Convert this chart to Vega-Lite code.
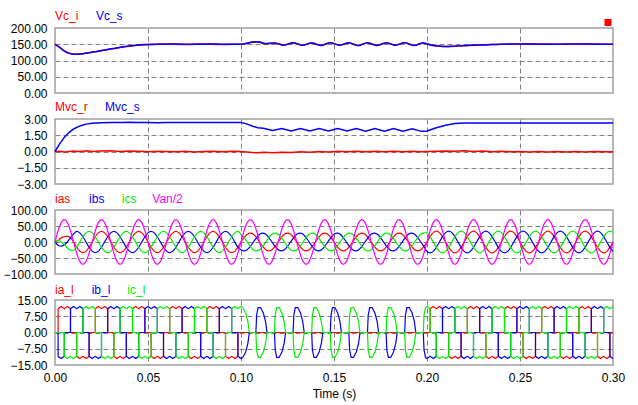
{
"$schema": "https://vega.github.io/schema/vega-lite/v6.json",
"background": "white",
"padding": {"left": 2, "top": 9, "right": 12, "bottom": 5},
"spacing": 26,
"bounds": "flush",
"config": {
  "view": {"stroke": "#a0a0a0", "strokeWidth": 1.5},
  "axis": {"grid": true, "gridColor": "#808080", "gridDash": [5, 3], "gridWidth": 1, "domain": false, "ticks": false, "tickCount": 12, "labelFont": "Liberation Sans", "labelFontSize": 12, "labelColor": "#000000", "labelFlush": false, "labelOverlap": false, "labelPadding": 8, "titleFont": "Liberation Sans", "titleFontSize": 12, "titleFontWeight": "normal", "titleColor": "#000000"},
  "text": {"font": "Liberation Sans", "fontSize": 12}
},
"vconcat": [
{
  "width": 558, "height": 65,
  "data": {"values": [
{"t":0,"vi":150,"vs":150},{"t":0.0025,"vi":141,"vs":140},{"t":0.005,"vi":130,"vs":129},{"t":0.0075,"vi":123,"vs":122},{"t":0.01,"vi":120,"vs":119},{"t":0.0125,"vi":119,"vs":120},{"t":0.015,"vi":121,"vs":121},{"t":0.0175,"vi":123,"vs":123},{"t":0.02,"vi":125,"vs":126},{"t":0.0225,"vi":128,"vs":128},{"t":0.025,"vi":130,"vs":131},{"t":0.0275,"vi":133,"vs":133},{"t":0.03,"vi":135,"vs":136},{"t":0.0325,"vi":138,"vs":138},{"t":0.035,"vi":140,"vs":141},{"t":0.0375,"vi":142,"vs":143},{"t":0.04,"vi":144,"vs":145},{"t":0.0425,"vi":146,"vs":146},{"t":0.045,"vi":147,"vs":148},{"t":0.0475,"vi":148,"vs":149},{"t":0.05,"vi":149,"vs":149},{"t":0.055,"vi":150,"vs":150},{"t":0.06,"vi":151,"vs":150},{"t":0.065,"vi":150,"vs":151},{"t":0.07,"vi":149,"vs":150},{"t":0.075,"vi":150,"vs":150},{"t":0.08,"vi":151,"vs":150},{"t":0.085,"vi":150,"vs":151},{"t":0.09,"vi":149,"vs":150},{"t":0.095,"vi":150,"vs":150},{"t":0.1,"vi":150,"vs":150},{"t":0.103,"vi":152,"vs":153},{"t":0.106,"vi":156,"vs":157},{"t":0.108,"vi":157,"vs":158},{"t":0.11,"vi":156,"vs":157},{"t":0.113,"vi":151,"vs":152},{"t":0.118,"vi":153,"vs":154},{"t":0.123,"vi":148,"vs":147},{"t":0.128,"vi":154,"vs":155},{"t":0.133,"vi":147,"vs":147},{"t":0.138,"vi":154,"vs":154},{"t":0.143,"vi":147,"vs":146},{"t":0.148,"vi":155,"vs":155},{"t":0.153,"vi":147,"vs":147},{"t":0.158,"vi":154,"vs":155},{"t":0.163,"vi":146,"vs":146},{"t":0.168,"vi":155,"vs":155},{"t":0.173,"vi":147,"vs":146},{"t":0.178,"vi":154,"vs":155},{"t":0.183,"vi":147,"vs":147},{"t":0.188,"vi":155,"vs":155},{"t":0.193,"vi":147,"vs":146},{"t":0.198,"vi":154,"vs":154},{"t":0.2,"vi":151,"vs":151},{"t":0.203,"vi":147,"vs":146},{"t":0.207,"vi":144,"vs":144},{"t":0.21,"vi":143,"vs":143},{"t":0.215,"vi":144,"vs":144},{"t":0.22,"vi":145,"vs":146},{"t":0.225,"vi":147,"vs":147},{"t":0.23,"vi":148,"vs":148},{"t":0.235,"vi":149,"vs":149},{"t":0.24,"vi":150,"vs":150},{"t":0.25,"vi":150,"vs":151},{"t":0.26,"vi":151,"vs":150},{"t":0.27,"vi":150,"vs":150},{"t":0.28,"vi":150,"vs":151},{"t":0.29,"vi":151,"vs":150},{"t":0.3,"vi":150,"vs":150}
  ]},
  "layer": [
    {"mark": {"type": "line", "color": "#ff0000", "strokeWidth": 1.5, "interpolate": "monotone"},
     "encoding": {
       "x": {"field": "t", "type": "quantitative", "scale": {"domain": [0, 0.3], "nice": false, "zero": false}, "axis": {"values": [0, 0.05, 0.1, 0.15, 0.2, 0.25, 0.3], "labels": false, "title": null, "gridOpacity": {"condition": {"test": "datum.value < 0.001 || datum.value > 0.299", "value": 0}, "value": 1}}},
       "y": {"field": "vi", "type": "quantitative", "scale": {"domain": [0, 200], "nice": false}, "axis": {"values": [0, 50, 100, 150, 200], "tickCount": 12, "format": ".2f", "title": null, "gridOpacity": {"condition": {"test": "datum.value == 0 || datum.value == 200", "value": 0}, "value": 1}}}
     }},
    {"mark": {"type": "line", "color": "#0000ff", "strokeWidth": 1.5, "interpolate": "monotone"},
     "encoding": {"x": {"field": "t", "type": "quantitative"}, "y": {"field": "vs", "type": "quantitative", "title": null}}},
    {"data": {"values": [{}]}, "mark": {"type": "text", "text": "Vc_i", "color": "#ff0000", "align": "left", "baseline": "middle", "dy": -12}, "encoding": {"x": {"datum": 0}, "y": {"datum": 200}}},
    {"data": {"values": [{}]}, "mark": {"type": "text", "text": "Vc_s", "color": "#0000ff", "align": "left", "baseline": "middle", "dy": -12}, "encoding": {"x": {"datum": 0.022}, "y": {"datum": 200}}},
    {"data": {"values": [{}]}, "mark": {"type": "point", "shape": "square", "filled": true, "size": 49, "color": "#ff0000", "opacity": 1}, "encoding": {"x": {"datum": 0.2973}, "y": {"datum": 217}}}
  ]
},
{
  "width": 558, "height": 65,
  "data": {"values": [
{"t":0,"mr":0,"ms":0},{"t":0.0025,"mr":0.02,"ms":0.7},{"t":0.005,"mr":-0.05,"ms":1.3},{"t":0.0075,"mr":0,"ms":1.75},{"t":0.01,"mr":0.05,"ms":2.08},{"t":0.0125,"mr":0,"ms":2.3},{"t":0.015,"mr":0.03,"ms":2.45},{"t":0.0175,"mr":0.06,"ms":2.55},{"t":0.02,"mr":0,"ms":2.61},{"t":0.025,"mr":0.04,"ms":2.66},{"t":0.03,"mr":0.07,"ms":2.68},{"t":0.035,"mr":0,"ms":2.68},{"t":0.04,"mr":0.05,"ms":2.69},{"t":0.045,"mr":0.02,"ms":2.68},{"t":0.05,"mr":-0.02,"ms":2.68},{"t":0.055,"mr":0.03,"ms":2.66},{"t":0.06,"mr":0,"ms":2.68},{"t":0.065,"mr":-0.03,"ms":2.67},{"t":0.07,"mr":0.02,"ms":2.68},{"t":0.075,"mr":-0.04,"ms":2.67},{"t":0.08,"mr":0,"ms":2.68},{"t":0.085,"mr":0.03,"ms":2.67},{"t":0.09,"mr":-0.03,"ms":2.68},{"t":0.095,"mr":0.02,"ms":2.67},{"t":0.1,"mr":0,"ms":2.68},{"t":0.103,"mr":-0.05,"ms":2.55},{"t":0.106,"mr":-0.1,"ms":2.35},{"t":0.109,"mr":-0.12,"ms":2.2},{"t":0.112,"mr":-0.08,"ms":2.15},{"t":0.117,"mr":-0.12,"ms":1.93},{"t":0.122,"mr":-0.06,"ms":2.12},{"t":0.127,"mr":-0.09,"ms":1.9},{"t":0.132,"mr":-0.03,"ms":2.12},{"t":0.137,"mr":-0.06,"ms":1.9},{"t":0.142,"mr":0,"ms":2.12},{"t":0.147,"mr":-0.04,"ms":1.9},{"t":0.152,"mr":0.02,"ms":2.13},{"t":0.157,"mr":-0.03,"ms":1.9},{"t":0.162,"mr":0.02,"ms":2.12},{"t":0.167,"mr":-0.02,"ms":1.88},{"t":0.172,"mr":0.03,"ms":2.12},{"t":0.177,"mr":-0.02,"ms":1.88},{"t":0.182,"mr":0.03,"ms":2.12},{"t":0.187,"mr":-0.03,"ms":1.88},{"t":0.192,"mr":0.02,"ms":2.1},{"t":0.197,"mr":-0.02,"ms":1.86},{"t":0.2,"mr":0.01,"ms":1.9},{"t":0.205,"mr":0.03,"ms":2.2},{"t":0.21,"mr":0.05,"ms":2.42},{"t":0.215,"mr":0.02,"ms":2.58},{"t":0.22,"mr":0.06,"ms":2.62},{"t":0.225,"mr":0,"ms":2.63},{"t":0.23,"mr":0.05,"ms":2.64},{"t":0.235,"mr":-0.02,"ms":2.63},{"t":0.24,"mr":0.03,"ms":2.64},{"t":0.245,"mr":-0.03,"ms":2.63},{"t":0.25,"mr":0,"ms":2.63},{"t":0.255,"mr":-0.05,"ms":2.62},{"t":0.26,"mr":0,"ms":2.63},{"t":0.265,"mr":-0.04,"ms":2.62},{"t":0.27,"mr":0,"ms":2.63},{"t":0.275,"mr":-0.04,"ms":2.62},{"t":0.28,"mr":-0.01,"ms":2.63},{"t":0.285,"mr":-0.05,"ms":2.62},{"t":0.29,"mr":0,"ms":2.63},{"t":0.295,"mr":-0.03,"ms":2.62},{"t":0.3,"mr":-0.02,"ms":2.63}
  ]},
  "layer": [
    {"mark": {"type": "line", "color": "#ff0000", "strokeWidth": 1.5},
     "encoding": {
       "x": {"field": "t", "type": "quantitative", "scale": {"domain": [0, 0.3], "nice": false, "zero": false}, "axis": {"values": [0, 0.05, 0.1, 0.15, 0.2, 0.25, 0.3], "labels": false, "title": null, "gridOpacity": {"condition": {"test": "datum.value < 0.001 || datum.value > 0.299", "value": 0}, "value": 1}}},
       "y": {"field": "mr", "type": "quantitative", "scale": {"domain": [-3, 3], "nice": false}, "axis": {"values": [-3, -1.5, 0, 1.5, 3], "tickCount": 12, "format": ".2f", "title": null, "gridOpacity": {"condition": {"test": "abs(datum.value) == 3", "value": 0}, "value": 1}}}
     }},
    {"mark": {"type": "line", "color": "#0000ff", "strokeWidth": 1.5},
     "encoding": {"x": {"field": "t", "type": "quantitative"}, "y": {"field": "ms", "type": "quantitative", "title": null}}},
    {"data": {"values": [{}]}, "mark": {"type": "text", "text": "Mvc_r", "color": "#ff0000", "align": "left", "baseline": "middle", "dy": -12}, "encoding": {"x": {"datum": 0}, "y": {"datum": 3}}},
    {"data": {"values": [{}]}, "mark": {"type": "text", "text": "Mvc_s", "color": "#0000ff", "align": "left", "baseline": "middle", "dy": -12}, "encoding": {"x": {"datum": 0.0269}, "y": {"datum": 3}}}
  ]
},
{
  "width": 558, "height": 64,
  "data": {"values": [
{"t":0,"a":0,"b":0,"c":0,"v":0},
{"t":0.00167,"a":5,"b":-9.9,"c":5,"v":35},
{"t":0.00333,"a":12.9,"b":-12.9,"c":0,"v":60.6},
{"t":0.005,"a":16.5,"b":-8.3,"c":-8.3,"v":70},
{"t":0.00667,"a":18.6,"b":0,"c":-18.6,"v":60.6},
{"t":0.00833,"a":13.2,"b":13.2,"c":-26.4,"v":35},
{"t":0.01,"a":0,"b":25.7,"c":-25.7,"v":0},
{"t":0.01167,"a":-16.5,"b":33,"c":-16.5,"v":-35},
{"t":0.01333,"a":-28.6,"b":28.6,"c":0,"v":-60.6},
{"t":0.015,"a":-33,"b":16.5,"c":16.5,"v":-70},
{"t":0.01667,"a":-28.6,"b":0,"c":28.6,"v":-60.6},
{"t":0.01833,"a":-16.5,"b":-16.5,"c":33,"v":-35},
{"t":0.02,"a":0,"b":-28.6,"c":28.6,"v":0},
{"t":0.02167,"a":16.5,"b":-33,"c":16.5,"v":35},
{"t":0.02333,"a":28.6,"b":-28.6,"c":0,"v":60.6},
{"t":0.025,"a":33,"b":-16.5,"c":-16.5,"v":70},
{"t":0.02667,"a":28.6,"b":0,"c":-28.6,"v":60.6},
{"t":0.02833,"a":16.5,"b":16.5,"c":-33,"v":35},
{"t":0.03,"a":0,"b":28.6,"c":-28.6,"v":0},
{"t":0.03167,"a":-16.5,"b":33,"c":-16.5,"v":-35},
{"t":0.03333,"a":-28.6,"b":28.6,"c":0,"v":-60.6},
{"t":0.035,"a":-33,"b":16.5,"c":16.5,"v":-70},
{"t":0.03667,"a":-28.6,"b":0,"c":28.6,"v":-60.6},
{"t":0.03833,"a":-16.5,"b":-16.5,"c":33,"v":-35},
{"t":0.04,"a":0,"b":-28.6,"c":28.6,"v":0},
{"t":0.04167,"a":16.5,"b":-33,"c":16.5,"v":35},
{"t":0.04333,"a":28.6,"b":-28.6,"c":0,"v":60.6},
{"t":0.045,"a":33,"b":-16.5,"c":-16.5,"v":70},
{"t":0.04667,"a":28.6,"b":0,"c":-28.6,"v":60.6},
{"t":0.04833,"a":16.5,"b":16.5,"c":-33,"v":35},
{"t":0.05,"a":0,"b":28.6,"c":-28.6,"v":0},
{"t":0.05167,"a":-16.5,"b":33,"c":-16.5,"v":-35},
{"t":0.05333,"a":-28.6,"b":28.6,"c":0,"v":-60.6},
{"t":0.055,"a":-33,"b":16.5,"c":16.5,"v":-70},
{"t":0.05667,"a":-28.6,"b":0,"c":28.6,"v":-60.6},
{"t":0.05833,"a":-16.5,"b":-16.5,"c":33,"v":-35},
{"t":0.06,"a":0,"b":-28.6,"c":28.6,"v":0},
{"t":0.06167,"a":16.5,"b":-33,"c":16.5,"v":35},
{"t":0.06333,"a":28.6,"b":-28.6,"c":0,"v":60.6},
{"t":0.065,"a":33,"b":-16.5,"c":-16.5,"v":70},
{"t":0.06667,"a":28.6,"b":0,"c":-28.6,"v":60.6},
{"t":0.06833,"a":16.5,"b":16.5,"c":-33,"v":35},
{"t":0.07,"a":0,"b":28.6,"c":-28.6,"v":0},
{"t":0.07167,"a":-16.5,"b":33,"c":-16.5,"v":-35},
{"t":0.07333,"a":-28.6,"b":28.6,"c":0,"v":-60.6},
{"t":0.075,"a":-33,"b":16.5,"c":16.5,"v":-70},
{"t":0.07667,"a":-28.6,"b":0,"c":28.6,"v":-60.6},
{"t":0.07833,"a":-16.5,"b":-16.5,"c":33,"v":-35},
{"t":0.08,"a":0,"b":-28.6,"c":28.6,"v":0},
{"t":0.08167,"a":16.5,"b":-33,"c":16.5,"v":35},
{"t":0.08333,"a":28.6,"b":-28.6,"c":0,"v":60.6},
{"t":0.085,"a":33,"b":-16.5,"c":-16.5,"v":70},
{"t":0.08667,"a":28.6,"b":0,"c":-28.6,"v":60.6},
{"t":0.08833,"a":16.5,"b":16.5,"c":-33,"v":35},
{"t":0.09,"a":0,"b":28.6,"c":-28.6,"v":0},
{"t":0.09167,"a":-16.5,"b":33,"c":-16.5,"v":-35},
{"t":0.09333,"a":-28.6,"b":28.6,"c":0,"v":-60.6},
{"t":0.095,"a":-33,"b":16.5,"c":16.5,"v":-70},
{"t":0.09667,"a":-28.6,"b":0,"c":28.6,"v":-60.6},
{"t":0.09833,"a":-16.5,"b":-16.5,"c":33,"v":-35},
{"t":0.1,"a":0,"b":-24.2,"c":24.2,"v":0},
{"t":0.10167,"a":14,"b":-28,"c":14,"v":35},
{"t":0.10333,"a":24.2,"b":-24.2,"c":0,"v":60.6},
{"t":0.105,"a":28,"b":-14,"c":-14,"v":70},
{"t":0.10667,"a":24.2,"b":0,"c":-24.2,"v":60.6},
{"t":0.10833,"a":14,"b":14,"c":-28,"v":35},
{"t":0.11,"a":0,"b":24.2,"c":-24.2,"v":0},
{"t":0.11167,"a":-14,"b":28,"c":-14,"v":-35},
{"t":0.11333,"a":-24.2,"b":24.2,"c":0,"v":-60.6},
{"t":0.115,"a":-28,"b":14,"c":14,"v":-70},
{"t":0.11667,"a":-24.2,"b":0,"c":24.2,"v":-60.6},
{"t":0.11833,"a":-14,"b":-14,"c":28,"v":-35},
{"t":0.12,"a":0,"b":-24.2,"c":24.2,"v":0},
{"t":0.12167,"a":14,"b":-28,"c":14,"v":35},
{"t":0.12333,"a":24.2,"b":-24.2,"c":0,"v":60.6},
{"t":0.125,"a":28,"b":-14,"c":-14,"v":70},
{"t":0.12667,"a":24.2,"b":0,"c":-24.2,"v":60.6},
{"t":0.12833,"a":14,"b":14,"c":-28,"v":35},
{"t":0.13,"a":0,"b":24.2,"c":-24.2,"v":0},
{"t":0.13167,"a":-14,"b":28,"c":-14,"v":-35},
{"t":0.13333,"a":-24.2,"b":24.2,"c":0,"v":-60.6},
{"t":0.135,"a":-28,"b":14,"c":14,"v":-70},
{"t":0.13667,"a":-24.2,"b":0,"c":24.2,"v":-60.6},
{"t":0.13833,"a":-14,"b":-14,"c":28,"v":-35},
{"t":0.14,"a":0,"b":-24.2,"c":24.2,"v":0},
{"t":0.14167,"a":14,"b":-28,"c":14,"v":35},
{"t":0.14333,"a":24.2,"b":-24.2,"c":0,"v":60.6},
{"t":0.145,"a":28,"b":-14,"c":-14,"v":70},
{"t":0.14667,"a":24.2,"b":0,"c":-24.2,"v":60.6},
{"t":0.14833,"a":14,"b":14,"c":-28,"v":35},
{"t":0.15,"a":0,"b":24.2,"c":-24.2,"v":0},
{"t":0.15167,"a":-14,"b":28,"c":-14,"v":-35},
{"t":0.15333,"a":-24.2,"b":24.2,"c":0,"v":-60.6},
{"t":0.155,"a":-28,"b":14,"c":14,"v":-70},
{"t":0.15667,"a":-24.2,"b":0,"c":24.2,"v":-60.6},
{"t":0.15833,"a":-14,"b":-14,"c":28,"v":-35},
{"t":0.16,"a":0,"b":-24.2,"c":24.2,"v":0},
{"t":0.16167,"a":14,"b":-28,"c":14,"v":35},
{"t":0.16333,"a":24.2,"b":-24.2,"c":0,"v":60.6},
{"t":0.165,"a":28,"b":-14,"c":-14,"v":70},
{"t":0.16667,"a":24.2,"b":0,"c":-24.2,"v":60.6},
{"t":0.16833,"a":14,"b":14,"c":-28,"v":35},
{"t":0.17,"a":0,"b":24.2,"c":-24.2,"v":0},
{"t":0.17167,"a":-14,"b":28,"c":-14,"v":-35},
{"t":0.17333,"a":-24.2,"b":24.2,"c":0,"v":-60.6},
{"t":0.175,"a":-28,"b":14,"c":14,"v":-70},
{"t":0.17667,"a":-24.2,"b":0,"c":24.2,"v":-60.6},
{"t":0.17833,"a":-14,"b":-14,"c":28,"v":-35},
{"t":0.18,"a":0,"b":-24.2,"c":24.2,"v":0},
{"t":0.18167,"a":14,"b":-28,"c":14,"v":35},
{"t":0.18333,"a":24.2,"b":-24.2,"c":0,"v":60.6},
{"t":0.185,"a":28,"b":-14,"c":-14,"v":70},
{"t":0.18667,"a":24.2,"b":0,"c":-24.2,"v":60.6},
{"t":0.18833,"a":14,"b":14,"c":-28,"v":35},
{"t":0.19,"a":0,"b":24.2,"c":-24.2,"v":0},
{"t":0.19167,"a":-14,"b":28,"c":-14,"v":-35},
{"t":0.19333,"a":-24.2,"b":24.2,"c":0,"v":-60.6},
{"t":0.195,"a":-28,"b":14,"c":14,"v":-70},
{"t":0.19667,"a":-24.2,"b":0,"c":24.2,"v":-60.6},
{"t":0.19833,"a":-14,"b":-14,"c":28,"v":-35},
{"t":0.2,"a":0,"b":-29.4,"c":29.4,"v":0},
{"t":0.20167,"a":17,"b":-34,"c":17,"v":35},
{"t":0.20333,"a":29.4,"b":-29.4,"c":0,"v":60.6},
{"t":0.205,"a":34,"b":-17,"c":-17,"v":70},
{"t":0.20667,"a":29.4,"b":0,"c":-29.4,"v":60.6},
{"t":0.20833,"a":17,"b":17,"c":-34,"v":35},
{"t":0.21,"a":0,"b":29.4,"c":-29.4,"v":0},
{"t":0.21167,"a":-17,"b":34,"c":-17,"v":-35},
{"t":0.21333,"a":-29.4,"b":29.4,"c":0,"v":-60.6},
{"t":0.215,"a":-34,"b":17,"c":17,"v":-70},
{"t":0.21667,"a":-29.4,"b":0,"c":29.4,"v":-60.6},
{"t":0.21833,"a":-17,"b":-17,"c":34,"v":-35},
{"t":0.22,"a":0,"b":-29.4,"c":29.4,"v":0},
{"t":0.22167,"a":17,"b":-34,"c":17,"v":35},
{"t":0.22333,"a":29.4,"b":-29.4,"c":0,"v":60.6},
{"t":0.225,"a":34,"b":-17,"c":-17,"v":70},
{"t":0.22667,"a":29.4,"b":0,"c":-29.4,"v":60.6},
{"t":0.22833,"a":17,"b":17,"c":-34,"v":35},
{"t":0.23,"a":0,"b":29.4,"c":-29.4,"v":0},
{"t":0.23167,"a":-17,"b":34,"c":-17,"v":-35},
{"t":0.23333,"a":-29.4,"b":29.4,"c":0,"v":-60.6},
{"t":0.235,"a":-34,"b":17,"c":17,"v":-70},
{"t":0.23667,"a":-29.4,"b":0,"c":29.4,"v":-60.6},
{"t":0.23833,"a":-17,"b":-17,"c":34,"v":-35},
{"t":0.24,"a":0,"b":-29.4,"c":29.4,"v":0},
{"t":0.24167,"a":17,"b":-34,"c":17,"v":35},
{"t":0.24333,"a":29.4,"b":-29.4,"c":0,"v":60.6},
{"t":0.245,"a":34,"b":-17,"c":-17,"v":70},
{"t":0.24667,"a":29.4,"b":0,"c":-29.4,"v":60.6},
{"t":0.24833,"a":17,"b":17,"c":-34,"v":35},
{"t":0.25,"a":0,"b":29.4,"c":-29.4,"v":0},
{"t":0.25167,"a":-17,"b":34,"c":-17,"v":-35},
{"t":0.25333,"a":-29.4,"b":29.4,"c":0,"v":-60.6},
{"t":0.255,"a":-34,"b":17,"c":17,"v":-70},
{"t":0.25667,"a":-29.4,"b":0,"c":29.4,"v":-60.6},
{"t":0.25833,"a":-17,"b":-17,"c":34,"v":-35},
{"t":0.26,"a":0,"b":-29.4,"c":29.4,"v":0},
{"t":0.26167,"a":17,"b":-34,"c":17,"v":35},
{"t":0.26333,"a":29.4,"b":-29.4,"c":0,"v":60.6},
{"t":0.265,"a":34,"b":-17,"c":-17,"v":70},
{"t":0.26667,"a":29.4,"b":0,"c":-29.4,"v":60.6},
{"t":0.26833,"a":17,"b":17,"c":-34,"v":35},
{"t":0.27,"a":0,"b":29.4,"c":-29.4,"v":0},
{"t":0.27167,"a":-17,"b":34,"c":-17,"v":-35},
{"t":0.27333,"a":-29.4,"b":29.4,"c":0,"v":-60.6},
{"t":0.275,"a":-34,"b":17,"c":17,"v":-70},
{"t":0.27667,"a":-29.4,"b":0,"c":29.4,"v":-60.6},
{"t":0.27833,"a":-17,"b":-17,"c":34,"v":-35},
{"t":0.28,"a":0,"b":-29.4,"c":29.4,"v":0},
{"t":0.28167,"a":17,"b":-34,"c":17,"v":35},
{"t":0.28333,"a":29.4,"b":-29.4,"c":0,"v":60.6},
{"t":0.285,"a":34,"b":-17,"c":-17,"v":70},
{"t":0.28667,"a":29.4,"b":0,"c":-29.4,"v":60.6},
{"t":0.28833,"a":17,"b":17,"c":-34,"v":35},
{"t":0.29,"a":0,"b":29.4,"c":-29.4,"v":0},
{"t":0.29167,"a":-17,"b":34,"c":-17,"v":-35},
{"t":0.29333,"a":-29.4,"b":29.4,"c":0,"v":-60.6},
{"t":0.295,"a":-34,"b":17,"c":17,"v":-70},
{"t":0.29667,"a":-29.4,"b":0,"c":29.4,"v":-60.6},
{"t":0.29833,"a":-17,"b":-17,"c":34,"v":-35},
{"t":0.3,"a":0,"b":-29.4,"c":29.4,"v":0}
  ]},
  "layer": [
    {"mark": {"type": "line", "color": "#ff0000", "strokeWidth": 1.2, "interpolate": "monotone"},
     "encoding": {
       "x": {"field": "t", "type": "quantitative", "scale": {"domain": [0, 0.3], "nice": false, "zero": false}, "axis": {"values": [0, 0.05, 0.1, 0.15, 0.2, 0.25, 0.3], "labels": false, "title": null, "gridOpacity": {"condition": {"test": "datum.value < 0.001 || datum.value > 0.299", "value": 0}, "value": 1}}},
       "y": {"field": "a", "type": "quantitative", "scale": {"domain": [-100, 100], "nice": false}, "axis": {"values": [-100, -50, 0, 50, 100], "tickCount": 12, "format": ".2f", "title": null, "gridOpacity": {"condition": {"test": "abs(datum.value) == 100", "value": 0}, "value": 1}}}
     }},
    {"mark": {"type": "line", "color": "#0000ff", "strokeWidth": 1.2, "interpolate": "monotone"},
     "encoding": {"x": {"field": "t", "type": "quantitative"}, "y": {"field": "b", "type": "quantitative", "title": null}}},
    {"mark": {"type": "line", "color": "#00ee00", "strokeWidth": 1.2, "interpolate": "monotone"},
     "encoding": {"x": {"field": "t", "type": "quantitative"}, "y": {"field": "c", "type": "quantitative", "title": null}}},
    {"mark": {"type": "line", "color": "#ff00ff", "strokeWidth": 1.2, "interpolate": "monotone"},
     "encoding": {"x": {"field": "t", "type": "quantitative"}, "y": {"field": "v", "type": "quantitative", "title": null}}},
    {"data": {"values": [{}]}, "mark": {"type": "text", "text": "ias", "color": "#ff0000", "align": "left", "baseline": "middle", "dy": -11}, "encoding": {"x": {"datum": 0}, "y": {"datum": 100}}},
    {"data": {"values": [{}]}, "mark": {"type": "text", "text": "ibs", "color": "#0000ff", "align": "left", "baseline": "middle", "dy": -11}, "encoding": {"x": {"datum": 0.0183}, "y": {"datum": 100}}},
    {"data": {"values": [{}]}, "mark": {"type": "text", "text": "ics", "color": "#00ee00", "align": "left", "baseline": "middle", "dy": -11}, "encoding": {"x": {"datum": 0.0359}, "y": {"datum": 100}}},
    {"data": {"values": [{}]}, "mark": {"type": "text", "text": "Van/2", "color": "#ff00ff", "align": "left", "baseline": "middle", "dy": -11}, "encoding": {"x": {"datum": 0.0523}, "y": {"datum": 100}}}
  ]
},
{
  "width": 558, "height": 65,
  "data": {"values": [
{"t":0,"a":0,"b":0,"c":0},{"t":0.00167,"a":0,"b":0,"c":0},{"t":0.00168,"a":11,"b":-11,"c":0},{"t":0.00333,"a":12,"b":-12,"c":0},{"t":0.005,"a":11,"b":-11,"c":0},{"t":0.00501,"a":11,"b":0,"c":-11},{"t":0.00667,"a":12,"b":0,"c":-12},{"t":0.00833,"a":11,"b":0,"c":-11},{"t":0.00834,"a":0,"b":11,"c":-11},{"t":0.01,"a":0,"b":12,"c":-12},{"t":0.01167,"a":0,"b":11,"c":-11},{"t":0.01168,"a":-11,"b":11,"c":0},{"t":0.01333,"a":-12,"b":12,"c":0},{"t":0.015,"a":-11,"b":11,"c":0},{"t":0.01501,"a":-11,"b":0,"c":11},{"t":0.01667,"a":-12,"b":0,"c":12},{"t":0.01833,"a":-11,"b":0,"c":11},{"t":0.01834,"a":0,"b":-11,"c":11},{"t":0.02,"a":0,"b":-12,"c":12},
{"t":0.02167,"a":0,"b":-11,"c":11},{"t":0.02168,"a":11,"b":-11,"c":0},{"t":0.02333,"a":12,"b":-12,"c":0},{"t":0.025,"a":11,"b":-11,"c":0},{"t":0.02501,"a":11,"b":0,"c":-11},{"t":0.02667,"a":12,"b":0,"c":-12},{"t":0.02833,"a":11,"b":0,"c":-11},{"t":0.02834,"a":0,"b":11,"c":-11},{"t":0.03,"a":0,"b":12,"c":-12},{"t":0.03167,"a":0,"b":11,"c":-11},{"t":0.03168,"a":-11,"b":11,"c":0},{"t":0.03333,"a":-12,"b":12,"c":0},{"t":0.035,"a":-11,"b":11,"c":0},{"t":0.03501,"a":-11,"b":0,"c":11},{"t":0.03667,"a":-12,"b":0,"c":12},{"t":0.03833,"a":-11,"b":0,"c":11},{"t":0.03834,"a":0,"b":-11,"c":11},{"t":0.04,"a":0,"b":-12,"c":12},
{"t":0.04167,"a":0,"b":-11,"c":11},{"t":0.04168,"a":11,"b":-11,"c":0},{"t":0.04333,"a":12,"b":-12,"c":0},{"t":0.045,"a":11,"b":-11,"c":0},{"t":0.04501,"a":11,"b":0,"c":-11},{"t":0.04667,"a":12,"b":0,"c":-12},{"t":0.04833,"a":11,"b":0,"c":-11},{"t":0.04834,"a":0,"b":11,"c":-11},{"t":0.05,"a":0,"b":12,"c":-12},{"t":0.05167,"a":0,"b":11,"c":-11},{"t":0.05168,"a":-11,"b":11,"c":0},{"t":0.05333,"a":-12,"b":12,"c":0},{"t":0.055,"a":-11,"b":11,"c":0},{"t":0.05501,"a":-11,"b":0,"c":11},{"t":0.05667,"a":-12,"b":0,"c":12},{"t":0.05833,"a":-11,"b":0,"c":11},{"t":0.05834,"a":0,"b":-11,"c":11},{"t":0.06,"a":0,"b":-12,"c":12},
{"t":0.06167,"a":0,"b":-11,"c":11},{"t":0.06168,"a":11,"b":-11,"c":0},{"t":0.06333,"a":12,"b":-12,"c":0},{"t":0.065,"a":11,"b":-11,"c":0},{"t":0.06501,"a":11,"b":0,"c":-11},{"t":0.06667,"a":12,"b":0,"c":-12},{"t":0.06833,"a":11,"b":0,"c":-11},{"t":0.06834,"a":0,"b":11,"c":-11},{"t":0.07,"a":0,"b":12,"c":-12},{"t":0.07167,"a":0,"b":11,"c":-11},{"t":0.07168,"a":-11,"b":11,"c":0},{"t":0.07333,"a":-12,"b":12,"c":0},{"t":0.075,"a":-11,"b":11,"c":0},{"t":0.07501,"a":-11,"b":0,"c":11},{"t":0.07667,"a":-12,"b":0,"c":12},{"t":0.07833,"a":-11,"b":0,"c":11},{"t":0.07834,"a":0,"b":-11,"c":11},{"t":0.08,"a":0,"b":-12,"c":12},
{"t":0.08167,"a":0,"b":-11,"c":11},{"t":0.08168,"a":11,"b":-11,"c":0},{"t":0.08333,"a":12,"b":-12,"c":0},{"t":0.085,"a":11,"b":-11,"c":0},{"t":0.08501,"a":11,"b":0,"c":-11},{"t":0.08667,"a":12,"b":0,"c":-12},{"t":0.08833,"a":11,"b":0,"c":-11},{"t":0.08834,"a":0,"b":11,"c":-11},{"t":0.09,"a":0,"b":12,"c":-12},{"t":0.09167,"a":0,"b":11,"c":-11},{"t":0.09168,"a":-11,"b":11,"c":0},{"t":0.09333,"a":-12,"b":12,"c":0},{"t":0.095,"a":-11,"b":11,"c":0},{"t":0.09501,"a":-11,"b":0,"c":11},{"t":0.09667,"a":-12,"b":0,"c":12},{"t":0.09833,"a":-11,"b":0,"c":11},{"t":0.09834,"a":0,"b":-11,"c":11},{"t":0.1,"a":0,"b":-12,"c":12},
{"t":0.101,"a":0,"b":-11.5,"c":11.5},{"t":0.1025,"a":0,"b":-9,"c":9},{"t":0.1037,"a":0,"b":-5,"c":5},{"t":0.1045,"a":0,"b":0,"c":0},
{"t":0.108,"a":0,"b":0,"c":0},{"t":0.1084,"a":0,"b":8,"c":-8},{"t":0.1092,"a":0,"b":11.5,"c":-11.5},{"t":0.1105,"a":0,"b":11.5,"c":-11.5},{"t":0.112,"a":0,"b":9,"c":-9},{"t":0.1132,"a":0,"b":5,"c":-5},{"t":0.114,"a":0,"b":0,"c":0},
{"t":0.118,"a":0,"b":0,"c":0},{"t":0.1184,"a":0,"b":-8,"c":8},{"t":0.1192,"a":0,"b":-11.5,"c":11.5},{"t":0.1205,"a":0,"b":-11.5,"c":11.5},{"t":0.122,"a":0,"b":-9,"c":9},{"t":0.1232,"a":0,"b":-5,"c":5},{"t":0.124,"a":0,"b":0,"c":0},
{"t":0.128,"a":0,"b":0,"c":0},{"t":0.1284,"a":0,"b":8,"c":-8},{"t":0.1292,"a":0,"b":11.5,"c":-11.5},{"t":0.1305,"a":0,"b":11.5,"c":-11.5},{"t":0.132,"a":0,"b":9,"c":-9},{"t":0.1332,"a":0,"b":5,"c":-5},{"t":0.134,"a":0,"b":0,"c":0},
{"t":0.138,"a":0,"b":0,"c":0},{"t":0.1384,"a":0,"b":-8,"c":8},{"t":0.1392,"a":0,"b":-11.5,"c":11.5},{"t":0.1405,"a":0,"b":-11.5,"c":11.5},{"t":0.142,"a":0,"b":-9,"c":9},{"t":0.1432,"a":0,"b":-5,"c":5},{"t":0.144,"a":0,"b":0,"c":0},
{"t":0.148,"a":0,"b":0,"c":0},{"t":0.1484,"a":0,"b":8,"c":-8},{"t":0.1492,"a":0,"b":11.5,"c":-11.5},{"t":0.1505,"a":0,"b":11.5,"c":-11.5},{"t":0.152,"a":0,"b":9,"c":-9},{"t":0.1532,"a":0,"b":5,"c":-5},{"t":0.154,"a":0,"b":0,"c":0},
{"t":0.158,"a":0,"b":0,"c":0},{"t":0.1584,"a":0,"b":-8,"c":8},{"t":0.1592,"a":0,"b":-11.5,"c":11.5},{"t":0.1605,"a":0,"b":-11.5,"c":11.5},{"t":0.162,"a":0,"b":-9,"c":9},{"t":0.1632,"a":0,"b":-5,"c":5},{"t":0.164,"a":0,"b":0,"c":0},
{"t":0.168,"a":0,"b":0,"c":0},{"t":0.1684,"a":0,"b":8,"c":-8},{"t":0.1692,"a":0,"b":11.5,"c":-11.5},{"t":0.1705,"a":0,"b":11.5,"c":-11.5},{"t":0.172,"a":0,"b":9,"c":-9},{"t":0.1732,"a":0,"b":5,"c":-5},{"t":0.174,"a":0,"b":0,"c":0},
{"t":0.178,"a":0,"b":0,"c":0},{"t":0.1784,"a":0,"b":-8,"c":8},{"t":0.1792,"a":0,"b":-11.5,"c":11.5},{"t":0.1805,"a":0,"b":-11.5,"c":11.5},{"t":0.182,"a":0,"b":-9,"c":9},{"t":0.1832,"a":0,"b":-5,"c":5},{"t":0.184,"a":0,"b":0,"c":0},
{"t":0.188,"a":0,"b":0,"c":0},{"t":0.1884,"a":0,"b":8,"c":-8},{"t":0.1892,"a":0,"b":11.5,"c":-11.5},{"t":0.1905,"a":0,"b":11.5,"c":-11.5},{"t":0.192,"a":0,"b":9,"c":-9},{"t":0.1932,"a":0,"b":5,"c":-5},{"t":0.194,"a":0,"b":0,"c":0},
{"t":0.198,"a":0,"b":0,"c":0},{"t":0.1984,"a":0,"b":-8,"c":8},{"t":0.1992,"a":0,"b":-11.5,"c":11.5},{"t":0.2,"a":0,"b":-12,"c":12},
{"t":0.20167,"a":0,"b":-11,"c":11},{"t":0.20168,"a":11,"b":-11,"c":0},{"t":0.20333,"a":12,"b":-12,"c":0},{"t":0.205,"a":11,"b":-11,"c":0},{"t":0.20501,"a":11,"b":0,"c":-11},{"t":0.20667,"a":12,"b":0,"c":-12},{"t":0.20833,"a":11,"b":0,"c":-11},{"t":0.20834,"a":0,"b":11,"c":-11},{"t":0.21,"a":0,"b":12,"c":-12},{"t":0.21167,"a":0,"b":11,"c":-11},{"t":0.21168,"a":-11,"b":11,"c":0},{"t":0.21333,"a":-12,"b":12,"c":0},{"t":0.215,"a":-11,"b":11,"c":0},{"t":0.21501,"a":-11,"b":0,"c":11},{"t":0.21667,"a":-12,"b":0,"c":12},{"t":0.21833,"a":-11,"b":0,"c":11},{"t":0.21834,"a":0,"b":-11,"c":11},{"t":0.22,"a":0,"b":-12,"c":12},
{"t":0.22167,"a":0,"b":-11,"c":11},{"t":0.22168,"a":11,"b":-11,"c":0},{"t":0.22333,"a":12,"b":-12,"c":0},{"t":0.225,"a":11,"b":-11,"c":0},{"t":0.22501,"a":11,"b":0,"c":-11},{"t":0.22667,"a":12,"b":0,"c":-12},{"t":0.22833,"a":11,"b":0,"c":-11},{"t":0.22834,"a":0,"b":11,"c":-11},{"t":0.23,"a":0,"b":12,"c":-12},{"t":0.23167,"a":0,"b":11,"c":-11},{"t":0.23168,"a":-11,"b":11,"c":0},{"t":0.23333,"a":-12,"b":12,"c":0},{"t":0.235,"a":-11,"b":11,"c":0},{"t":0.23501,"a":-11,"b":0,"c":11},{"t":0.23667,"a":-12,"b":0,"c":12},{"t":0.23833,"a":-11,"b":0,"c":11},{"t":0.23834,"a":0,"b":-11,"c":11},{"t":0.24,"a":0,"b":-12,"c":12},
{"t":0.24167,"a":0,"b":-11,"c":11},{"t":0.24168,"a":11,"b":-11,"c":0},{"t":0.24333,"a":12,"b":-12,"c":0},{"t":0.245,"a":11,"b":-11,"c":0},{"t":0.24501,"a":11,"b":0,"c":-11},{"t":0.24667,"a":12,"b":0,"c":-12},{"t":0.24833,"a":11,"b":0,"c":-11},{"t":0.24834,"a":0,"b":11,"c":-11},{"t":0.25,"a":0,"b":12,"c":-12},{"t":0.25167,"a":0,"b":11,"c":-11},{"t":0.25168,"a":-11,"b":11,"c":0},{"t":0.25333,"a":-12,"b":12,"c":0},{"t":0.255,"a":-11,"b":11,"c":0},{"t":0.25501,"a":-11,"b":0,"c":11},{"t":0.25667,"a":-12,"b":0,"c":12},{"t":0.25833,"a":-11,"b":0,"c":11},{"t":0.25834,"a":0,"b":-11,"c":11},{"t":0.26,"a":0,"b":-12,"c":12},
{"t":0.26167,"a":0,"b":-11,"c":11},{"t":0.26168,"a":11,"b":-11,"c":0},{"t":0.26333,"a":12,"b":-12,"c":0},{"t":0.265,"a":11,"b":-11,"c":0},{"t":0.26501,"a":11,"b":0,"c":-11},{"t":0.26667,"a":12,"b":0,"c":-12},{"t":0.26833,"a":11,"b":0,"c":-11},{"t":0.26834,"a":0,"b":11,"c":-11},{"t":0.27,"a":0,"b":12,"c":-12},{"t":0.27167,"a":0,"b":11,"c":-11},{"t":0.27168,"a":-11,"b":11,"c":0},{"t":0.27333,"a":-12,"b":12,"c":0},{"t":0.275,"a":-11,"b":11,"c":0},{"t":0.27501,"a":-11,"b":0,"c":11},{"t":0.27667,"a":-12,"b":0,"c":12},{"t":0.27833,"a":-11,"b":0,"c":11},{"t":0.27834,"a":0,"b":-11,"c":11},{"t":0.28,"a":0,"b":-12,"c":12},
{"t":0.28167,"a":0,"b":-11,"c":11},{"t":0.28168,"a":11,"b":-11,"c":0},{"t":0.28333,"a":12,"b":-12,"c":0},{"t":0.285,"a":11,"b":-11,"c":0},{"t":0.28501,"a":11,"b":0,"c":-11},{"t":0.28667,"a":12,"b":0,"c":-12},{"t":0.28833,"a":11,"b":0,"c":-11},{"t":0.28834,"a":0,"b":11,"c":-11},{"t":0.29,"a":0,"b":12,"c":-12},{"t":0.29167,"a":0,"b":11,"c":-11},{"t":0.29168,"a":-11,"b":11,"c":0},{"t":0.29333,"a":-12,"b":12,"c":0},{"t":0.295,"a":-11,"b":11,"c":0},{"t":0.29501,"a":-11,"b":0,"c":11},{"t":0.29667,"a":-12,"b":0,"c":12},{"t":0.29833,"a":-11,"b":0,"c":11},{"t":0.29834,"a":0,"b":-11,"c":11},{"t":0.3,"a":0,"b":-12,"c":12}
  ]},
  "layer": [
    {"mark": {"type": "line", "color": "#ff0000", "strokeWidth": 1.2},
     "encoding": {
       "x": {"field": "t", "type": "quantitative", "scale": {"domain": [0, 0.3], "nice": false, "zero": false}, "axis": {"values": [0, 0.05, 0.1, 0.15, 0.2, 0.25, 0.3], "format": ".2f", "title": "Time (s)", "labelPadding": 7, "titlePadding": 5, "gridOpacity": {"condition": {"test": "datum.value < 0.001 || datum.value > 0.299", "value": 0}, "value": 1}}},
       "y": {"field": "a", "type": "quantitative", "scale": {"domain": [-15, 15], "nice": false}, "axis": {"values": [-15, -7.5, 0, 7.5, 15], "tickCount": 12, "format": ".2f", "title": null, "gridOpacity": {"condition": {"test": "abs(datum.value) == 15", "value": 0}, "value": 1}}}
     }},
    {"mark": {"type": "line", "color": "#0000ff", "strokeWidth": 1.2},
     "encoding": {"x": {"field": "t", "type": "quantitative"}, "y": {"field": "b", "type": "quantitative", "title": null}}},
    {"mark": {"type": "line", "color": "#00ee00", "strokeWidth": 1.2},
     "encoding": {"x": {"field": "t", "type": "quantitative"}, "y": {"field": "c", "type": "quantitative", "title": null}}},
    {"data": {"values": [{}]}, "mark": {"type": "text", "text": "ia_l", "color": "#ff0000", "align": "left", "baseline": "middle", "dy": -10}, "encoding": {"x": {"datum": 0}, "y": {"datum": 15}}},
    {"data": {"values": [{}]}, "mark": {"type": "text", "text": "ib_l", "color": "#0000ff", "align": "left", "baseline": "middle", "dy": -10}, "encoding": {"x": {"datum": 0.0197}, "y": {"datum": 15}}},
    {"data": {"values": [{}]}, "mark": {"type": "text", "text": "ic_l", "color": "#00ee00", "align": "left", "baseline": "middle", "dy": -10}, "encoding": {"x": {"datum": 0.0389}, "y": {"datum": 15}}}
  ]
}
]
}
